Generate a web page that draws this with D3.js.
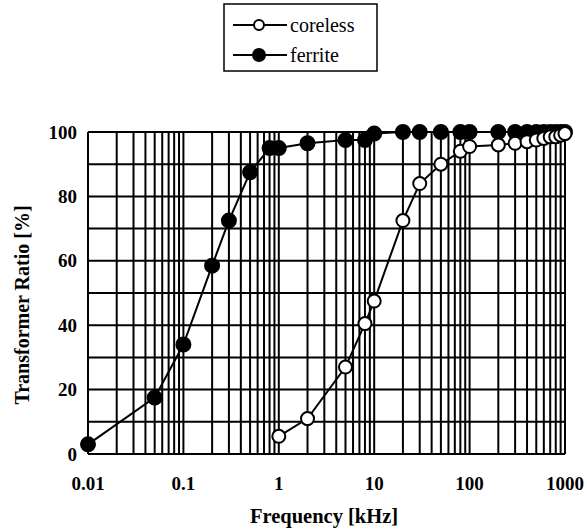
<!DOCTYPE html>
<html>
<head>
<meta charset="utf-8">
<script src="https://cdn.jsdelivr.net/npm/d3@7"></script>
<style>
    body { margin: 0; background: #fff; }
    svg { display: block; font-family: "Liberation Serif", "Times New Roman", serif; }
</style>
</head>
<body>
<div class="container"></div>
<script>
const ferriteFreq = [0.01, 0.05, 0.1, 0.2, 0.3, 0.5, 0.8, 1, 2, 5, 8, 10, 20, 30, 50, 80, 100, 200, 300, 400, 500, 600, 700, 800, 900, 1000];
const ferriteRatio = [3, 17.5, 34, 58.5, 72.5, 87.5, 95, 95, 96.5, 97.5, 97.5, 99.5, 100, 100, 100, 100, 100, 100, 100, 100, 100, 100, 100, 100, 100, 100];
const corelessFreq = [1, 2, 5, 8, 10, 20, 30, 50, 80, 100, 200, 300, 400, 500, 600, 700, 800, 900, 1000];
const corelessRatio = [5.5, 11, 27, 40.5, 47.5, 72.5, 84, 90, 94, 95.5, 96, 96.5, 97, 97.5, 98, 98.5, 98.5, 99, 99.5];
const xTicks = [0.01, 0.1, 1, 10, 100, 1000];
const yTicks = [0, 20, 40, 60, 80, 100];
const legendLabels = ['coreless', 'ferrite'];

const width = 587;
const height = 531;
const plot = { left: 88, right: 565, top: 132, bottom: 454 };

const svg = d3.select('.container')
    .append('svg')
    .attr('width', width)
    .attr('height', height);

const x = d3.scaleLog().domain([0.01, 1000]).range([plot.left, plot.right]);
const y = d3.scaleLinear().domain([0, 100]).range([plot.bottom, plot.top]);

// grid: every 1..9 x decade, every 10 %
const xGrid = [];
for (let e = -2; e < 3; e++) {
    for (let m = 1; m < 10; m++) xGrid.push(m * Math.pow(10, e));
}
xGrid.push(1000);
const yGrid = d3.range(0, 101, 10);

const grid = svg.append('g').attr('stroke', '#000').attr('stroke-width', 2);
grid.selectAll('.vx')
    .data(xGrid)
    .enter()
    .append('line')
    .attr('x1', d => x(d)).attr('x2', d => x(d))
    .attr('y1', plot.top).attr('y2', plot.bottom);
grid.selectAll('.hy')
    .data(yGrid)
    .enter()
    .append('line')
    .attr('x1', plot.left).attr('x2', plot.right)
    .attr('y1', d => y(d)).attr('y2', d => y(d));

// tick labels
svg.append('g')
    .selectAll('text')
    .data(yTicks)
    .enter()
    .append('text')
    .attr('x', plot.left - 11)
    .attr('y', d => y(d))
    .attr('dy', '0.35em')
    .attr('text-anchor', 'end')
    .attr('font-weight', 'bold')
    .attr('font-size', 19)
    .text(d => d);

svg.append('g')
    .selectAll('text')
    .data(xTicks)
    .enter()
    .append('text')
    .attr('x', d => x(d))
    .attr('y', 490)
    .attr('text-anchor', 'middle')
    .attr('font-weight', 'bold')
    .attr('font-size', 19)
    .text(d => d);

svg.append('text')
    .attr('x', 324)
    .attr('y', 523)
    .attr('text-anchor', 'middle')
    .attr('font-weight', 'bold')
    .attr('font-size', 20.5)
    .text('Frequency [kHz]');

svg.append('text')
    .attr('transform', 'translate(29,305) rotate(-90)')
    .attr('text-anchor', 'middle')
    .attr('font-weight', 'bold')
    .attr('font-size', 20)
    .text('Transformer Ratio [%]');

// series
const line = d3.line().x(d => x(d[0])).y(d => y(d[1]));
const ferrite = d3.zip(ferriteFreq, ferriteRatio);
const coreless = d3.zip(corelessFreq, corelessRatio);

function drawSeries(data, fill, r) {
    const g = svg.append('g');
    g.append('path')
        .datum(data)
        .attr('d', line)
        .attr('fill', 'none')
        .attr('stroke', '#000')
        .attr('stroke-width', 2);
    g.selectAll('circle')
        .data(data)
        .enter()
        .append('circle')
        .attr('cx', d => x(d[0]))
        .attr('cy', d => y(d[1]))
        .attr('r', r)
        .attr('fill', fill)
        .attr('stroke', '#000')
        .attr('stroke-width', 2);
}
drawSeries(ferrite, '#000', 7);
drawSeries(coreless, '#fff', 6.5);

// legend
const legend = svg.append('g');
legend.append('rect')
    .attr('x', 224).attr('y', 4)
    .attr('width', 153).attr('height', 67)
    .attr('fill', '#fff')
    .attr('stroke', '#000')
    .attr('stroke-width', 1.5);
const legendRows = legend.selectAll('.row')
    .data(legendLabels)
    .enter()
    .append('g')
    .attr('transform', (d, i) => `translate(0,${25 + i * 30})`);
legendRows.append('line')
    .attr('x1', 233).attr('x2', 287)
    .attr('stroke', '#000').attr('stroke-width', 2);
legendRows.append('circle')
    .attr('cx', 259).attr('r', (d, i) => i === 0 ? 5 : 6)
    .attr('fill', (d, i) => i === 0 ? '#fff' : '#000')
    .attr('stroke', '#000').attr('stroke-width', 2);
legendRows.append('text')
    .attr('x', 290)
    .attr('dy', '0.35em')
    .attr('font-size', 20)
    .text(d => d);
</script>
</body>
</html>
